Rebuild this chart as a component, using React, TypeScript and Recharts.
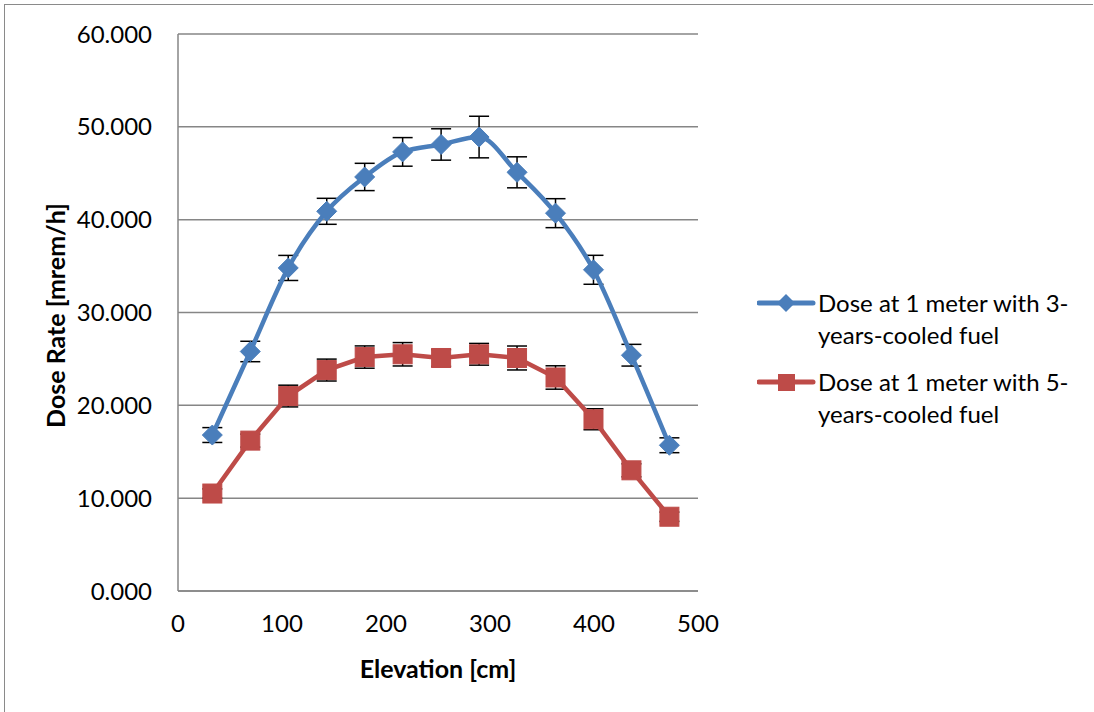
import React from "react";
import {
  ComposedChart,
  Line,
  XAxis,
  YAxis,
  CartesianGrid,
  ErrorBar,
  Label,
} from "recharts";

const elevation = [33, 69.5, 106, 143, 179.5, 216, 253, 289.5, 326, 363, 399.5, 436, 472.5];
const dose3yr = [16.8, 25.8, 34.8, 40.9, 44.6, 47.3, 48.1, 48.9, 45.1, 40.7, 34.6, 25.4, 15.7];
const err3yr = [0.8, 1.1, 1.35, 1.4, 1.47, 1.54, 1.69, 2.24, 1.67, 1.56, 1.56, 1.17, 0.8];
const dose5yr = [10.5, 16.2, 21.0, 23.8, 25.2, 25.5, 25.1, 25.5, 25.1, 23.0, 18.5, 13.0, 8.0];
const err5yr = [0.5, 0.7, 1.17, 1.18, 1.2, 1.26, 0.9, 1.17, 1.29, 1.26, 1.13, 0.7, 0.5];

const xTicks = [0, 100, 200, 300, 400, 500];
const yTicks = [0, 10, 20, 30, 40, 50, 60];

const series3Name = "Dose at 1 meter with 3-years-cooled fuel";
const series5Name = "Dose at 1 meter with 5-years-cooled fuel";
const series3Lines = ["Dose at 1 meter with 3-", "years-cooled fuel"];
const series5Lines = ["Dose at 1 meter with 5-", "years-cooled fuel"];

const BLUE = "#4A7EBB";
const RED = "#BE4B48";
const GRID = "#868686";
const FONT = "Lato, 'Open Sans', sans-serif";

const rows = elevation.map((x, i) => ({
  x,
  d3: dose3yr[i],
  e3: err3yr[i],
  d5: dose5yr[i],
  e5: err5yr[i],
}));

function Diamond(props: any) {
  const { cx, cy, index } = props;
  if (cx == null || cy == null) return null;
  const r = 10;
  return (
    <path
      key={`d-${index}`}
      d={`M${cx},${cy - r} L${cx + r},${cy} L${cx},${cy + r} L${cx - r},${cy} Z`}
      fill={BLUE}
      stroke={BLUE}
      strokeWidth={1}
    />
  );
}

function Square(props: any) {
  const { cx, cy, index } = props;
  if (cx == null || cy == null) return null;
  const r = 9.5;
  return (
    <rect
      key={`s-${index}`}
      x={cx - r}
      y={cy - r}
      width={2 * r}
      height={2 * r}
      fill={RED}
      stroke={RED}
      strokeWidth={1}
    />
  );
}

function LegendBox() {
  const entries = [
    { color: BLUE, lines: series3Lines, shape: "diamond", name: series3Name },
    { color: RED, lines: series5Lines, shape: "square", name: series5Name },
  ];
  return (
    <div
      style={{
        position: "absolute",
        left: 757,
        top: 287,
        width: 336,
        fontFamily: FONT,
        fontSize: 24,
        color: "#000",
      }}
    >
      {entries.map((e, i) => (
        <div key={i} title={e.name} style={{ display: "flex", alignItems: "flex-start", marginBottom: 15 }}>
          <svg width={60} height={32} style={{ flex: "none" }}>
            <line x1={2} y1={16} x2={56} y2={16} stroke={e.color} strokeWidth={5} strokeLinecap="round" />
            {e.shape === "diamond" ? (
              <path d="M29,7 L38,16 L29,25 L20,16 Z" fill={e.color} />
            ) : (
              <rect x={21} y={8} width={17} height={17} fill={e.color} />
            )}
          </svg>
          <div style={{ marginLeft: 1, lineHeight: "32px", whiteSpace: "nowrap" }}>
            {e.lines.map((t, j) => (
              <div key={j}>{t}</div>
            ))}
          </div>
        </div>
      ))}
    </div>
  );
}

export default function App() {
  return (
    <div
      style={{
        position: "absolute",
        left: 0,
        top: 0,
        width: 1094,
        height: 712,
        overflow: "hidden",
        background: "#fff",
        fontFamily: FONT,
      }}
    >
      <div
        style={{
          position: "absolute",
          left: 4,
          top: 4,
          width: 1088,
          height: 740,
          borderLeft: "1.5px solid #8a8a8a",
          borderTop: "1.5px solid #8a8a8a",
        }}
      />
      <ComposedChart
        width={1094}
        height={712}
        data={rows}
        margin={{ top: 34, right: 396, left: 0, bottom: 0 }}
        style={{ position: "absolute", left: 0, top: 0 }}
      >
        <CartesianGrid vertical={false} stroke={GRID} strokeWidth={1.5} />
        <XAxis
          dataKey="x"
          type="number"
          domain={[0, 500]}
          ticks={xTicks}
          height={121}
          tickSize={0}
          tickMargin={24}
          axisLine={{ stroke: GRID, strokeWidth: 1.5 }}
          tick={{ fill: "#000", fontSize: 24, fontFamily: FONT }}
        >
          <Label
            value="Elevation [cm]"
            position="insideBottom"
            offset={34}
            style={{ fontWeight: 700, fontSize: 25, fill: "#000", fontFamily: FONT }}
          />
        </XAxis>
        <YAxis
          type="number"
          domain={[0, 60]}
          ticks={yTicks}
          width={178}
          tickSize={0}
          tickMargin={26}
          axisLine={{ stroke: GRID, strokeWidth: 1.5 }}
          tickFormatter={(v: number) => v.toFixed(3)}
          tick={{ fill: "#000", fontSize: 24, fontFamily: FONT }}
        >
          <Label
            value="Dose Rate [mrem/h]"
            angle={-90}
            position="insideLeft"
            offset={56}
            dy={3}
            style={{ fontWeight: 700, fontSize: 25, fill: "#000", fontFamily: FONT, textAnchor: "middle" }}
          />
        </YAxis>
        <Line
          type="monotone"
          dataKey="d3"
          name={series3Name}
          stroke={BLUE}
          strokeWidth={4.5}
          dot={Diamond}
          activeDot={false}
          isAnimationActive={false}
        >
          <ErrorBar dataKey="e3" direction="y" width={10} stroke="#000" strokeWidth={1.5} />
        </Line>
        <Line
          type="linear"
          dataKey="d5"
          name={series5Name}
          stroke={RED}
          strokeWidth={4.5}
          dot={Square}
          activeDot={false}
          isAnimationActive={false}
        >
          <ErrorBar dataKey="e5" direction="y" width={10} stroke="#000" strokeWidth={1.5} />
        </Line>
      </ComposedChart>
      <LegendBox />
    </div>
  );
}
